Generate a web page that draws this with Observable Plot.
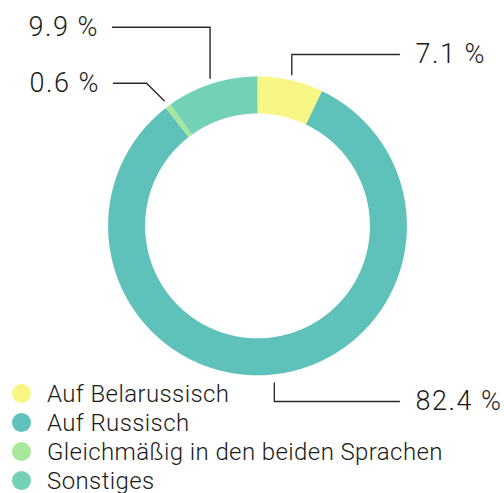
<!DOCTYPE html>
<html><head><meta charset="utf-8">
<script src="https://cdn.jsdelivr.net/npm/d3@7"></script>
<script src="https://cdn.jsdelivr.net/npm/@observablehq/plot@0.6"></script>
<style>
body{margin:0;background:#fff;}
#wrap{position:relative;width:504px;height:493px;font-family:Roboto,sans-serif;}
#wrap svg{position:absolute;left:0;top:0;}
#wrap svg text{letter-spacing:1.5px;}
#legend{position:absolute;left:0;top:379px;}
.row{display:flex;align-items:center;height:29px;}
.dot{width:19px;height:19px;border-radius:50%;margin-left:12px;margin-right:16px;flex:none;}
.lab{font-size:24px;font-weight:300;color:#1a1a1a;white-space:nowrap;letter-spacing:0.4px;}
</style></head><body><div id="wrap"></div>
<script>
// ---- data ----
const categories = ["Auf Belarussisch", "Auf Russisch", "Gleichmäßig in den beiden Sprachen", "Sonstiges"];
const values = [7.1, 82.4, 0.6, 9.9];
const colors = ["#f8f685", "#5ec2bb", "#a9e89b", "#72d1b6"];
const valueLabels = ["7.1 %", "82.4 %", "0.6 %", "9.9 %"];

// ---- layout ----
const W = 504, H = 493;
const cx = 257, cy = 225.4, rOuter = 149.4, rInner = 112.4;
const rMid = (rOuter + rInner) / 2, ring = rOuter - rInner;
// leader layout per slice: start radius, elbow y, end x of horizontal, side, diagonal?
const leaderLayout = [
  {r0: 155, elbowY: 54, endX: 399, side: "right", diag: false},
  {r0: 158, elbowY: 401, endX: 399, side: "right", diag: false},
  {r0: 156, elbowY: 82.7, endX: 113, side: "left", diag: true},
  {r0: 155, elbowY: 26.7, endX: 112, side: "left", diag: false}
];

const total = d3.sum(values);
let acc = 0;
const slices = values.map((v, i) => {
  const a0 = acc / total * 2 * Math.PI;
  acc += v;
  const a1 = acc / total * 2 * Math.PI;
  return {cat: categories[i], a0, a1, mid: (a0 + a1) / 2};
});

// ring points (sampled along each arc)
const ringPts = [];
for (const s of slices) {
  const n = Math.max(2, Math.ceil((s.a1 - s.a0) / (Math.PI / 720)));
  for (let k = 0; k <= n; k++) {
    const a = s.a0 + (s.a1 - s.a0) * k / n;
    ringPts.push({cat: s.cat, x: cx + rMid * Math.sin(a), y: cy - rMid * Math.cos(a)});
  }
}

// leader lines and labels
const leaderPts = [], labelData = [];
slices.forEach((s, i) => {
  const L = leaderLayout[i];
  const x0 = cx + L.r0 * Math.sin(s.mid), y0 = cy - L.r0 * Math.cos(s.mid);
  let ex = x0;
  if (L.diag) ex = x0 - Math.abs(y0 - L.elbowY) * (L.side === "left" ? 1 : -1);
  leaderPts.push({cat: s.cat, x: x0, y: y0});
  leaderPts.push({cat: s.cat, x: ex, y: L.elbowY});
  leaderPts.push({cat: s.cat, x: L.endX, y: L.elbowY});
  labelData.push({
    text: valueLabels[i],
    x: L.side === "right" ? L.endX + 16 : L.endX - 15,
    y: L.elbowY,
    side: L.side
  });
});

const textOpts = {x: "x", y: "y", text: "text", fontSize: 27, fontWeight: 300, fill: "#1a1a1a", lineAnchor: "middle"};
const chart = Plot.plot({
  width: W, height: H, margin: 0,
  x: {domain: [0, W], range: [0, W], axis: null},
  y: {domain: [0, H], range: [0, H], axis: null},
  color: {domain: categories, range: colors},
  style: {fontFamily: "Roboto, sans-serif", background: "transparent"},
  marks: [
    Plot.line(ringPts, {x: "x", y: "y", z: "cat", stroke: "cat", strokeWidth: ring, strokeLinecap: "butt", strokeLinejoin: "round", curve: "linear"}),
    Plot.line(leaderPts, {x: "x", y: "y", z: "cat", stroke: "#2a2a2a", strokeWidth: 1.4}),
    Plot.text(labelData.filter(d => d.side === "right"), {...textOpts, textAnchor: "start"}),
    Plot.text(labelData.filter(d => d.side === "left"), {...textOpts, textAnchor: "end", dx: 1.5})
  ]
});
const wrap = document.getElementById("wrap");
wrap.appendChild(chart);

const legend = document.createElement("div");
legend.id = "legend";
categories.forEach((c, i) => {
  const row = document.createElement("div");
  row.className = "row";
  const dot = document.createElement("span");
  dot.className = "dot";
  dot.style.background = colors[i];
  const lab = document.createElement("span");
  lab.className = "lab";
  lab.textContent = c;
  row.appendChild(dot); row.appendChild(lab);
  legend.appendChild(row);
});
wrap.appendChild(legend);
</script></body></html>
